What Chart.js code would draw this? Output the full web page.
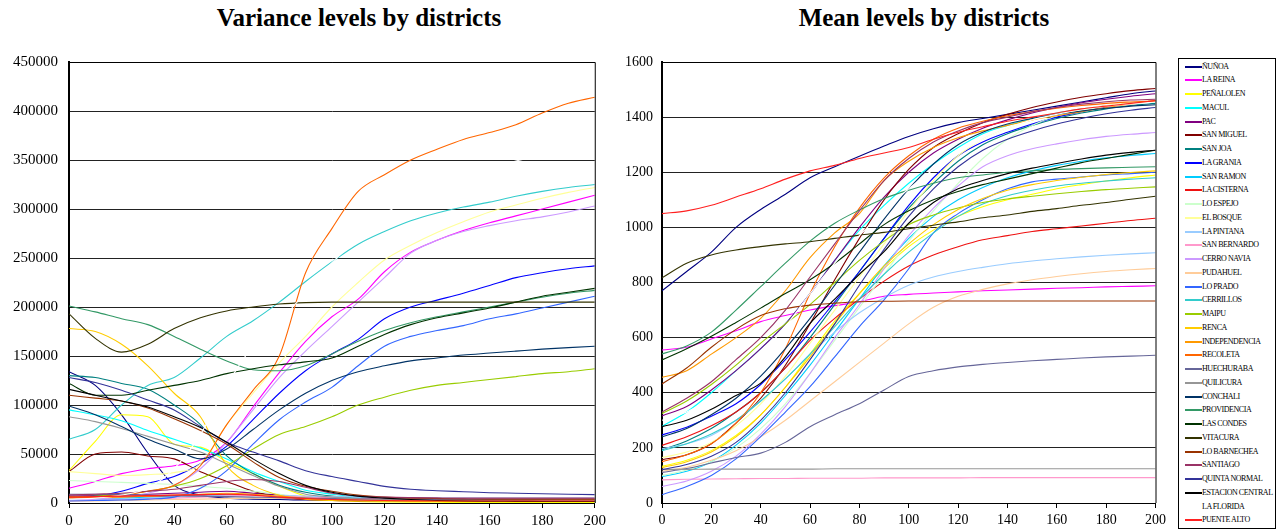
<!DOCTYPE html>
<html>
<head>
<meta charset="utf-8">
<script src="https://cdn.jsdelivr.net/npm/chart.js@4.4.1/dist/chart.umd.min.js"></script>
<style>
  html, body { margin:0; padding:0; background:#fff; }
  body { width:1278px; height:531px; position:relative; overflow:hidden; font-family:'Liberation Serif','Times New Roman',serif; }
  .title { position:absolute; top:4px; font-weight:bold; font-size:25px; color:#000; white-space:nowrap; transform:translateX(-50%); }
  canvas { position:absolute; top:0; }
  #legend { position:absolute; left:1178px; top:58px; width:98px; height:471px; border:1px solid #000; box-sizing:border-box; background:#fff; }
  .lrow { position:absolute; left:0; height:10px; width:97px; }
  .lline { position:absolute; display:block; left:6px; width:17px; top:4px; height:2px; }
  .ltext { position:absolute; display:block; left:23px; top:0; font-size:8px; line-height:10px; letter-spacing:-0.45px; color:#000; white-space:nowrap; }
</style>
</head>
<body>
<div class="title" style="left:359px">Variance levels by districts</div>
<div class="title" style="left:924px">Mean levels by districts</div>
<canvas id="varChart" width="610" height="531" style="left:0px"></canvas>
<canvas id="meanChart" width="560" height="531" style="left:610px"></canvas>
<div id="legend"></div>
<script>
const X_STEPS = [0,10,20,30,40,50,60,70,80,90,100,110,120,130,140,150,160,170,180,190,200];
const X_TICKS = [0,20,40,60,80,100,120,140,160,180,200];
const VAR_TICKS = [0,50000,100000,150000,200000,250000,300000,350000,400000,450000];
const MEAN_TICKS = [0,200,400,600,800,1000,1200,1400,1600];

const DISTRICTS = ['ÑUÑOA','LA REINA','PEÑALOLEN','MACUL','PAC','SAN MIGUEL','SAN JOA','LA GRANIA','SAN RAMON','LA CISTERNA','LO ESPEJO','EL BOSQUE','LA PINTANA','SAN BERNARDO','CERRO NAVIA','PUDAHUEL','LO PRADO','CERRILLOS','MAIPU','RENCA','INDEPENDENCIA','RECOLETA','HUECHURABA','QUILICURA','CONCHALI','PROVIDENCIA','LAS CONDES','VITACURA','LO BARNECHEA','SANTIAGO','QUINTA NORMAL','ESTACION CENTRAL','LA FLORIDA','PUENTE ALTO'];
const COLORS = ['#000080','#FF00FF','#FFFF00','#00FFFF','#800080','#800000','#008080','#0000FF','#00CCFF','#EE1111','#CCFFCC','#FFFF99','#99CCFF','#FF99CC','#CC99FF','#FFCC99','#3366FF','#33CCCC','#99CC00','#FFCC00','#FF9900','#FF6600','#666699','#969696','#003366','#339966','#003300','#333300','#993300','#993366','#333399','#000000','#FFFFFF','#FF2020'];

// ---- Variance values (x = 0,10,...,200)
const var_NUNOA = [134000,120000,90000,51000,18000,8000,5000,4000,3500,3000,3000,2800,2600,2500,2400,2300,2200,2100,2000,2000,2000];
const var_LAREINA = [15000,22000,30000,35000,38000,44000,62000,98000,133000,165000,190000,208000,236000,256000,268000,278000,286000,293000,300000,307000,314000];
const var_PENALOLEN = [33000,63000,90000,88000,60000,57000,42000,30000,17000,7000,3000,1500,1000,800,700,600,600,500,500,500,500];
const var_MACUL = [95000,90000,84000,74000,65000,56000,45000,32000,22000,13000,9000,6000,4000,3500,3000,2800,2600,2400,2200,2100,2000];
const var_PAC = [7000,7500,8000,9000,10000,11000,12000,10000,8000,6000,4500,3500,3000,2800,2600,2500,2400,2300,2200,2100,2000];
const var_SANMIGUEL = [32000,50000,52000,48000,45000,32000,22000,12000,6000,3500,2500,2200,2000,1800,1700,1600,1500,1500,1500,1500,1500];
const var_SANJOA = [130000,128000,122000,116000,100000,80000,48000,30000,18000,11000,7000,5000,4000,3500,3000,2800,2600,2400,2200,2100,2000];
const var_LAGRANIA = [5000,7000,12000,20000,27000,40000,58000,85000,112000,135000,152000,167000,188000,200000,207000,214000,222000,230000,235000,239000,242000];
const var_SANRAMON = [4000,4500,5000,6000,7000,8000,9000,8000,7000,6000,5000,4500,4000,3800,3600,3500,3400,3300,3200,3100,3000];
const var_LACISTERNA = [6000,6000,6500,7000,7500,8000,8500,8000,7000,6000,5000,4500,4000,3800,3600,3500,3400,3300,3200,3100,3000];
const var_LOESPEJO = [23000,22000,21000,20000,19000,17000,15000,12000,9000,6000,4000,3000,2500,2200,2000,2000,2000,2000,2000,2000,2000];
const var_ELBOSQUE = [32000,30000,28000,29000,31000,40000,80000,112000,143000,170000,200000,225000,248000,263000,276000,287000,297000,304000,311000,317000,322000];
const var_LAPINTANA = [3000,3500,4000,5000,6000,7000,8000,8000,7500,7000,6500,6000,5500,5000,5000,5000,5000,5000,5000,5000,5000];
const var_SANBERNARDO = [2000,2500,3000,4000,5000,6000,7000,8000,7000,6000,5000,4500,4000,4000,4000,4000,4000,4000,4000,4000,4000];
const var_CERRONAVIA = [3000,4000,6000,10000,18000,35000,62000,95000,128000,155000,180000,205000,230000,255000,268000,277000,283000,288000,292000,297000,303000];
const var_PUDAHUEL = [2000,2200,2500,3000,3500,4000,4500,5000,5000,4500,4000,3500,3000,3000,3000,3000,3000,3000,3000,3000,3000];
const var_LOPRADO = [2000,2500,3000,4000,6000,15000,33000,60000,85000,103000,118000,140000,160000,170000,176000,181000,188000,193000,199000,205000,211000];
const var_CERRILLOS = [65000,75000,100000,120000,128000,148000,170000,186000,205000,226000,246000,264000,277000,288000,296000,302000,307000,313000,318000,322000,325000];
const var_MAIPU = [6000,7000,9000,12000,17000,25000,38000,55000,70000,78000,88000,100000,108000,115000,120000,123000,126000,129000,132000,134000,137000];
const var_RENCA = [178000,175000,162000,140000,112000,88000,38000,18000,8000,4000,2500,2000,1800,1700,1600,1500,1500,1500,1500,1500,1500];
const var_INDEPENDENCIA = [5000,5500,6000,7000,8000,9000,10000,9000,7000,5000,4000,3500,3000,3000,3000,3000,3000,3000,3000,3000,3000];
const var_RECOLETA = [5000,6000,8000,12000,18000,38000,80000,115000,150000,235000,280000,318000,335000,350000,361000,371000,378000,386000,398000,408000,414000];
const var_HUECHURABA = [9000,9000,8500,8000,7500,7000,6500,6000,5500,5000,4500,4200,4000,3800,3600,3500,3400,3300,3200,3100,3000];
const var_QUILICURA = [88000,83000,76000,68000,60000,52000,40000,28000,17000,9000,6000,4000,3000,2800,2600,2400,2200,2100,2000,2000,2000];
const var_CONCHALI = [99000,90000,78000,65000,55000,45000,55000,75000,95000,112000,125000,134000,140000,145000,148000,151000,153000,155000,157000,158500,160000];
const var_PROVIDENCIA = [201000,195000,188000,182000,170000,157000,145000,136000,135000,140000,152000,165000,176000,184000,190000,195000,200000,205000,210000,214000,217000];
const var_LASCONDES = [122000,110000,110000,115000,120000,125000,132000,137000,141000,144000,148000,160000,172000,182000,189000,194000,199000,205000,211000,215000,219000];
const var_VITACURA = [193000,168000,154000,162000,178000,189000,196000,200000,203000,204500,205000,205000,205000,205000,205000,205000,205000,205000,205000,205000,205000];
const var_LOBARNECHEA = [110000,107000,104000,97000,86000,74000,60000,42000,26000,17000,12000,8000,6000,5000,4500,4200,4000,4000,4000,4000,4000];
const var_SANTIAGO = [8000,9000,10000,12000,14000,18000,22000,24000,22000,16000,10000,7000,6000,5500,5200,5000,5000,5000,5000,5000,5000];
const var_QUINTANORMAL = [128000,123000,115000,105000,95000,78000,62000,52000,43000,33000,27000,22000,17000,14000,12500,11500,10500,10000,9500,9000,8500];
const var_ESTACIONCENTRAL = [116000,110000,104000,98000,88000,77000,62000,45000,30000,18000,11000,7000,5000,3500,2500,2000,1800,1700,1600,1500,1500];
const var_LAFLORIDA = [4000,5000,8000,15000,35000,70000,120000,160000,185000,215000,245000,270000,295000,310000,322000,332000,342000,349000,355000,360000,365000];
const var_PUENTEALTO = [6000,6500,7000,7500,8000,8500,9000,8000,6000,4500,3500,3000,2500,2200,2000,2000,2000,2000,2000,2000,2000];

// ---- Mean values (x = 0,10,...,200)
const mean_NUNOA = [770,840,910,1000,1065,1120,1180,1220,1258,1295,1330,1358,1380,1395,1410,1425,1440,1455,1470,1485,1495];
const mean_LAREINA = [555,565,595,625,658,680,700,716,730,750,757,762,766,770,773,776,779,781,784,786,788];
const mean_PENALOLEN = [133,155,190,245,320,420,540,660,760,850,930,990,1040,1075,1100,1120,1140,1155,1168,1180,1190];
const mean_MACUL = [278,330,400,480,560,650,760,880,990,1080,1160,1230,1290,1340,1370,1395,1415,1430,1440,1450,1455];
const mean_PAC = [316,350,410,480,560,650,760,880,1000,1110,1200,1270,1320,1360,1390,1415,1435,1452,1465,1476,1485];
const mean_SANMIGUEL = [157,175,215,290,380,500,650,810,960,1100,1210,1290,1340,1380,1410,1435,1455,1472,1485,1496,1504];
const mean_SANJOA = [193,225,270,330,400,490,600,720,840,960,1070,1160,1240,1300,1340,1370,1395,1415,1430,1442,1450];
const mean_LAGRANIA = [247,275,315,360,430,520,620,730,840,960,1080,1180,1260,1310,1345,1375,1400,1420,1437,1450,1460];
const mean_SANRAMON = [96,115,150,210,290,390,500,620,740,860,960,1040,1100,1145,1180,1205,1225,1240,1252,1261,1268];
const mean_LACISTERNA = [209,240,280,330,400,490,590,670,740,805,860,900,930,955,970,985,995,1005,1015,1025,1033];
const mean_LOESPEJO = [100,120,150,200,270,360,470,590,710,830,950,1060,1160,1250,1320,1370,1405,1425,1440,1450,1455];
const mean_ELBOSQUE = [165,185,220,280,360,460,580,700,820,940,1060,1170,1260,1320,1360,1390,1410,1428,1442,1452,1460];
const mean_LAPINTANA = [197,215,245,300,370,450,540,620,690,745,790,820,840,855,868,878,886,893,899,904,908];
const mean_SANBERNARDO = [84,86,87,88,89,89,90,90,90,91,91,91,91,92,92,92,92,92,92,92,92];
const mean_CERRONAVIA = [60,80,115,170,250,350,470,600,720,850,970,1070,1150,1220,1260,1285,1303,1318,1330,1338,1344];
const mean_PUDAHUEL = [115,130,155,190,240,300,370,440,510,580,650,710,750,775,795,810,822,832,840,846,851];
const mean_LOPRADO = [30,60,100,160,241,330,422,530,640,737,850,980,1050,1100,1140,1165,1175,1183,1190,1195,1200];
const mean_CERRILLOS = [190,215,250,300,370,450,540,640,740,830,910,980,1040,1085,1115,1135,1150,1160,1168,1175,1180];
const mean_MAIPU = [325,370,430,500,580,650,720,800,880,950,1010,1045,1070,1090,1103,1113,1122,1130,1137,1142,1147];
const mean_RENCA = [128,150,185,240,320,420,530,650,760,860,940,1010,1065,1105,1135,1155,1170,1182,1192,1199,1205];
const mean_INDEPENDENCIA = [456,480,540,600,670,770,890,980,1050,1170,1240,1290,1325,1350,1370,1390,1405,1420,1435,1448,1459];
const mean_RECOLETA = [150,175,215,290,400,560,760,930,1070,1180,1260,1320,1360,1385,1405,1420,1432,1442,1450,1455,1459];
const mean_HUECHURABA = [111,125,145,165,181,220,277,320,360,410,459,480,494,503,510,516,521,526,530,533,536];
const mean_QUILICURA = [122,122,123,123,123,123,123,124,124,124,124,124,124,124,124,124,124,124,124,124,124];
const mean_CONCHALI = [240,270,320,380,460,560,670,790,910,1030,1140,1230,1300,1345,1375,1395,1410,1422,1432,1440,1445];
const mean_PROVIDENCIA = [541,570,620,700,785,870,950,1015,1063,1105,1135,1160,1180,1190,1200,1205,1210,1213,1216,1218,1220];
const mean_LASCONDES = [519,560,605,655,707,760,810,870,940,1010,1060,1100,1130,1155,1175,1195,1215,1235,1250,1265,1280];
const mean_VITACURA = [817,870,900,918,930,940,948,960,972,982,995,1008,1020,1035,1045,1058,1068,1080,1090,1102,1113];
const mean_LOBARNECHEA = [432,490,565,630,680,705,718,725,730,732,733,733,733,733,733,733,733,733,733,733,733];
const mean_SANTIAGO = [330,380,440,520,600,700,820,940,1060,1170,1250,1310,1350,1380,1400,1420,1435,1447,1456,1462,1465];
const mean_QUINTANORMAL = [121,140,170,220,300,400,520,650,790,920,1040,1140,1220,1280,1320,1350,1375,1395,1412,1425,1435];
const mean_ESTACIONCENTRAL = [277,300,340,390,435,530,652,740,830,912,1015,1090,1140,1170,1195,1215,1232,1248,1262,1272,1280];
const mean_LAFLORIDA = [300,330,380,450,540,640,760,870,970,1060,1140,1210,1270,1320,1360,1390,1410,1428,1440,1448,1455];
const mean_PUENTEALTO = [1050,1060,1080,1110,1140,1175,1205,1225,1250,1270,1290,1320,1345,1365,1385,1400,1415,1430,1440,1450,1460];

const VAR_SERIES = [var_NUNOA,var_LAREINA,var_PENALOLEN,var_MACUL,var_PAC,var_SANMIGUEL,var_SANJOA,var_LAGRANIA,var_SANRAMON,var_LACISTERNA,var_LOESPEJO,var_ELBOSQUE,var_LAPINTANA,var_SANBERNARDO,var_CERRONAVIA,var_PUDAHUEL,var_LOPRADO,var_CERRILLOS,var_MAIPU,var_RENCA,var_INDEPENDENCIA,var_RECOLETA,var_HUECHURABA,var_QUILICURA,var_CONCHALI,var_PROVIDENCIA,var_LASCONDES,var_VITACURA,var_LOBARNECHEA,var_SANTIAGO,var_QUINTANORMAL,var_ESTACIONCENTRAL,var_LAFLORIDA,var_PUENTEALTO];
const MEAN_SERIES = [mean_NUNOA,mean_LAREINA,mean_PENALOLEN,mean_MACUL,mean_PAC,mean_SANMIGUEL,mean_SANJOA,mean_LAGRANIA,mean_SANRAMON,mean_LACISTERNA,mean_LOESPEJO,mean_ELBOSQUE,mean_LAPINTANA,mean_SANBERNARDO,mean_CERRONAVIA,mean_PUDAHUEL,mean_LOPRADO,mean_CERRILLOS,mean_MAIPU,mean_RENCA,mean_INDEPENDENCIA,mean_RECOLETA,mean_HUECHURABA,mean_QUILICURA,mean_CONCHALI,mean_PROVIDENCIA,mean_LASCONDES,mean_VITACURA,mean_LOBARNECHEA,mean_SANTIAGO,mean_QUINTANORMAL,mean_ESTACIONCENTRAL,mean_LAFLORIDA,mean_PUENTEALTO];

const FONT_FAMILY = "'Liberation Serif','Times New Roman',serif";

function buildDatasets(series) {
  return DISTRICTS.map((name, i) => ({
    label: name,
    data: X_STEPS.map((x, j) => ({ x: x, y: series[i][j] })),
    borderColor: COLORS[i],
    backgroundColor: COLORS[i],
    borderWidth: 1.1,
    pointRadius: 0,
    fill: false,
    cubicInterpolationMode: 'monotone',
    order: DISTRICTS.length - i
  }));
}

const framePlugin = {
  id: 'frame',
  afterDatasetsDraw(chart) {
    const a = chart.chartArea, ctx = chart.ctx;
    ctx.save();
    ctx.strokeStyle = '#000';
    ctx.lineWidth = 1;
    ctx.beginPath();
    ctx.moveTo(a.left, a.top + 0.5);
    ctx.lineTo(a.right + 0.5, a.top + 0.5);
    ctx.lineTo(a.right + 0.5, a.bottom);
    ctx.stroke();
    ctx.restore();
  }
};

function makeChart(id, series, yMax, yTicks, yWidth, padRight, fontSize, yPad) {
  return new Chart(document.getElementById(id), {
    type: 'line',
    data: { datasets: buildDatasets(series) },
    plugins: [framePlugin],
    options: {
      responsive: false,
      animation: false,
      devicePixelRatio: 1,
      layout: { padding: { top: 62, right: padRight, bottom: 0, left: 0 } },
      plugins: { legend: { display: false }, tooltip: { enabled: false }, title: { display: false } },
      scales: {
        x: {
          type: 'linear', min: 0, max: 200,
          afterBuildTicks: s => { s.ticks = X_TICKS.map(v => ({ value: v })); },
          afterFit: s => { s.height = 28; },
          ticks: { color: '#000', font: { family: FONT_FAMILY, size: fontSize }, padding: 4, maxRotation: 0, autoSkip: false, callback: v => String(v) },
          grid: { display: true, drawOnChartArea: false, drawTicks: true, tickLength: 5, color: '#000', lineWidth: 1 },
          border: { display: true, color: '#000', width: 1 }
        },
        y: {
          type: 'linear', min: 0, max: yMax,
          afterBuildTicks: s => { s.ticks = yTicks.map(v => ({ value: v })); },
          afterFit: s => { s.width = yWidth; },
          ticks: { color: '#000', font: { family: FONT_FAMILY, size: fontSize }, padding: yPad, autoSkip: false, callback: v => String(v) },
          grid: { color: '#222', lineWidth: 1, drawTicks: false },
          border: { display: true, color: '#000', width: 2 }
        }
      }
    }
  });
}

makeChart('varChart', VAR_SERIES, 450000, VAR_TICKS, 69, 13, 15, 11);
makeChart('meanChart', MEAN_SERIES, 1600, MEAN_TICKS, 52, 12, 14, 9);

// HTML legend
const legend = document.getElementById('legend');
DISTRICTS.forEach((name, i) => {
  const row = document.createElement('div');
  row.className = 'lrow';
  row.style.top = (66.7 - 59 - 5 + i * 13.75) + 'px';
  const line = document.createElement('span');
  line.className = 'lline';
  line.style.background = COLORS[i];
  const txt = document.createElement('span');
  txt.className = 'ltext';
  txt.textContent = name;
  row.appendChild(line);
  row.appendChild(txt);
  legend.appendChild(row);
});
</script>
</body>
</html>
